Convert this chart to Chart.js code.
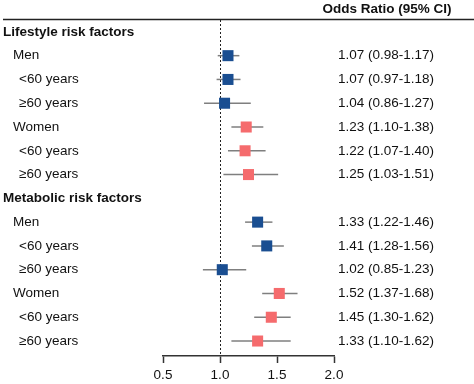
<!DOCTYPE html>
<html>
<head>
<meta charset="utf-8">
<script src="https://cdn.jsdelivr.net/npm/chart.js@4"></script>
<style>
  html, body { margin: 0; padding: 0; background: #fff; }
  #wrap { width: 474px; height: 384px; }
</style>
</head>
<body>
<div id="wrap"><canvas id="forest" width="474" height="384"></canvas></div>
<script>
// Rows (top to bottom)
const rowLabels = ["Lifestyle risk factors", "Men", "<60 years", "≥60 years", "Women", "<60 years", "≥60 years",
    "Metabolic risk factors", "Men", "<60 years", "≥60 years", "Women", "<60 years", "≥60 years"];
const rowLevel = [0, 1, 2, 2, 1, 2, 2, 0, 1, 2, 2, 1, 2, 2];
const oddsRatio = [null, 1.07, 1.07, 1.04, 1.23, 1.22, 1.25, null, 1.33, 1.41, 1.02, 1.52, 1.45, 1.33];
const ciLow = [null, 0.98, 0.97, 0.86, 1.10, 1.07, 1.03, null, 1.22, 1.28, 0.85, 1.37, 1.30, 1.10];
const ciHigh = [null, 1.17, 1.18, 1.27, 1.38, 1.40, 1.51, null, 1.46, 1.56, 1.23, 1.68, 1.62, 1.62];
const sex = [null, "m", "m", "m", "f", "f", "f", null, "m", "m", "m", "f", "f", "f"];
const xTicks = [0.5, 1.0, 1.5, 2.0];

const BLUE = "#1a4e91";
const PINK = "#f56b6d";
const FONT = "'Liberation Sans', Arial, sans-serif";

const fmt = (v) => v.toFixed(2);

const points = [];
oddsRatio.forEach((v, i) => {
    if (v !== null) points.push({ x: v, y: i });
});
const pointColors = points.map((p) => (sex[p.y] === "m" ? BLUE : PINK));

// draws labels, CI whiskers, reference line, header
const forestPlugin = {
    id: "forest",
    beforeDatasetsDraw(chart) {
        const { ctx, scales: { x, y }, chartArea } = chart;
        ctx.save();
        // dotted line at OR = 1
        const x1 = x.getPixelForValue(1.0);
        ctx.strokeStyle = "#222";
        ctx.lineWidth = 1;
        ctx.setLineDash([2, 2]);
        ctx.beginPath();
        ctx.moveTo(x1 + 0.5, chartArea.top);
        ctx.lineTo(x1 + 0.5, chartArea.bottom);
        ctx.stroke();
        ctx.setLineDash([]);

        // whiskers
        ctx.strokeStyle = "#7f7f7f";
        ctx.lineWidth = 1.5;
        oddsRatio.forEach((v, i) => {
            if (v === null) return;
            const py = y.getPixelForValue(i);
            ctx.beginPath();
            ctx.moveTo(x.getPixelForValue(ciLow[i]), py);
            ctx.lineTo(x.getPixelForValue(ciHigh[i]), py);
            ctx.stroke();
        });
        ctx.restore();
    },
    afterDraw(chart) {
        const { ctx, scales: { y } } = chart;
        ctx.save();
        ctx.fillStyle = "#111";
        ctx.textBaseline = "middle";

        // header + top rule
        ctx.font = "bold 13.5px " + FONT;
        ctx.textAlign = "center";
        ctx.fillText("Odds Ratio (95% CI)", 387, 9);
        ctx.strokeStyle = "#222";
        ctx.lineWidth = 1.5;
        ctx.beginPath();
        ctx.moveTo(3, 19.5);
        ctx.lineTo(474, 19.5);
        ctx.stroke();

        rowLabels.forEach((label, i) => {
            const py = y.getPixelForValue(i);
            ctx.textAlign = "left";
            if (rowLevel[i] === 0) {
                ctx.font = "bold 13.5px " + FONT;
                ctx.fillText(label, 3, py);
            } else {
                ctx.font = "13.5px " + FONT;
                ctx.fillText(label, rowLevel[i] === 1 ? 13 : 19, py);
            }
            if (oddsRatio[i] !== null) {
                ctx.font = "13.5px " + FONT;
                ctx.fillText(fmt(oddsRatio[i]) + " (" + fmt(ciLow[i]) + "-" + fmt(ciHigh[i]) + ")", 338, py);
            }
        });
        ctx.restore();
    }
};

new Chart(document.getElementById("forest"), {
    type: "scatter",
    data: {
        datasets: [{
            data: points,
            pointStyle: "rect",
            pointRadius: 7.8,
            pointHoverRadius: 7.8,
            backgroundColor: pointColors,
            borderColor: pointColors,
            borderWidth: 0,
        }],
    },
    options: {
        responsive: false,
        animation: false,
        events: [],
        layout: { padding: { left: 163, right: 140, top: 20, bottom: 0 } },
        plugins: { legend: { display: false }, tooltip: { enabled: false } },
        scales: {
            x: {
                type: "linear",
                min: 0.5,
                max: 2.0,
                afterBuildTicks: (scale) => { scale.ticks = xTicks.map((v) => ({ value: v })); },
                afterFit: (scale) => { scale.height = 28; },
                grid: { drawOnChartArea: false, drawTicks: true, tickLength: 7, color: "#333", tickWidth: 1.5 },
                border: { display: true, color: "#333", width: 1.5 },
                ticks: {
                    color: "#111",
                    padding: 4,
                    maxRotation: 0,
                    font: { family: FONT, size: 13.5 },
                    callback: (v) => Number(v).toFixed(1),
                },
            },
            y: {
                type: "linear",
                display: false,
                reverse: true,
                min: -0.5,
                max: 13.63,
            },
        },
    },
    plugins: [forestPlugin],
});
</script>
</body>
</html>
